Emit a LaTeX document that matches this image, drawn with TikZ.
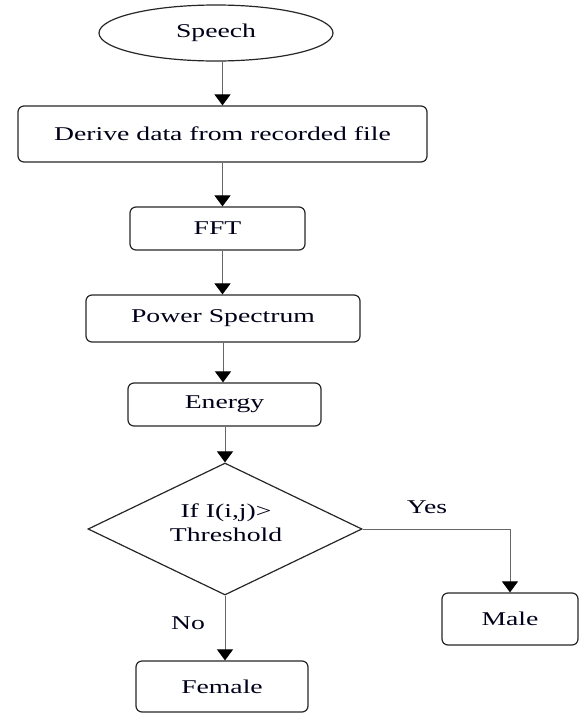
\documentclass[tikz,border=0pt]{standalone}
\usepackage{fontspec}
\setmainfont{Liberation Serif}[FakeStretch=1.42]
\usetikzlibrary{shapes.geometric,arrows.meta}
\begin{document}
\begin{tikzpicture}[x=1pt,y=-1pt,
  every node/.style={font=\fontsize{19.5}{24}\selectfont, text=black!90!blue},
  shapeline/.style={draw=black!85, line width=1.2pt},
  box/.style={shapeline, rounded corners=6pt, inner sep=0pt},
  conn/.style={draw=black!60, line width=1pt, -{Triangle[width=16pt,length=11pt,color=black]}},
  plainline/.style={draw=black!60, line width=1pt}]
\useasboundingbox (0,0) rectangle (584,713);
\node[shapeline, ellipse, minimum width=234pt, minimum height=56pt, inner sep=0pt] (speech) at (216,33) {Speech};
\node[box, minimum width=409pt, minimum height=56pt] (derive) at (222.5,134) {Derive data from recorded file};
\node[box, minimum width=175pt, minimum height=43pt] (fft) at (217.5,228.5) {FFT};
\node[box, minimum width=274pt, minimum height=47pt] (power) at (223,318.5) {Power Spectrum};
\node[box, minimum width=193pt, minimum height=43pt] (energy) at (224.5,404.5) {Energy};
\node[shapeline, diamond, minimum width=274pt, minimum height=132pt, inner sep=0pt] (dec) at (225,529) {};
\node[align=center] (dtext) at (226,523) {If I(i,j)>\\Threshold};
\node[box, minimum width=136pt, minimum height=52pt] (male) at (510,619) {Male};
\node[box, minimum width=172pt, minimum height=51pt] (female) at (222,686.5) {Female};
\node (yes) at (427,507) {Yes};
\node (no) at (188,623) {No};
\draw[conn] (speech.south -| derive.north) -- (derive.north);
\draw[conn] (derive.south) -- (derive.south |- fft.north);
\draw[conn] (derive.south |- fft.south) -- (derive.south |- power.north);
\draw[conn] (power.south) -- (power.south |- energy.north);
\draw[conn] (energy.south -| dec.north) -- (dec.north);
\draw[conn] (dec.east) -| (male.north);
\draw[conn] (dec.south) -- (dec.south |- female.north);
\end{tikzpicture}
\end{document}
